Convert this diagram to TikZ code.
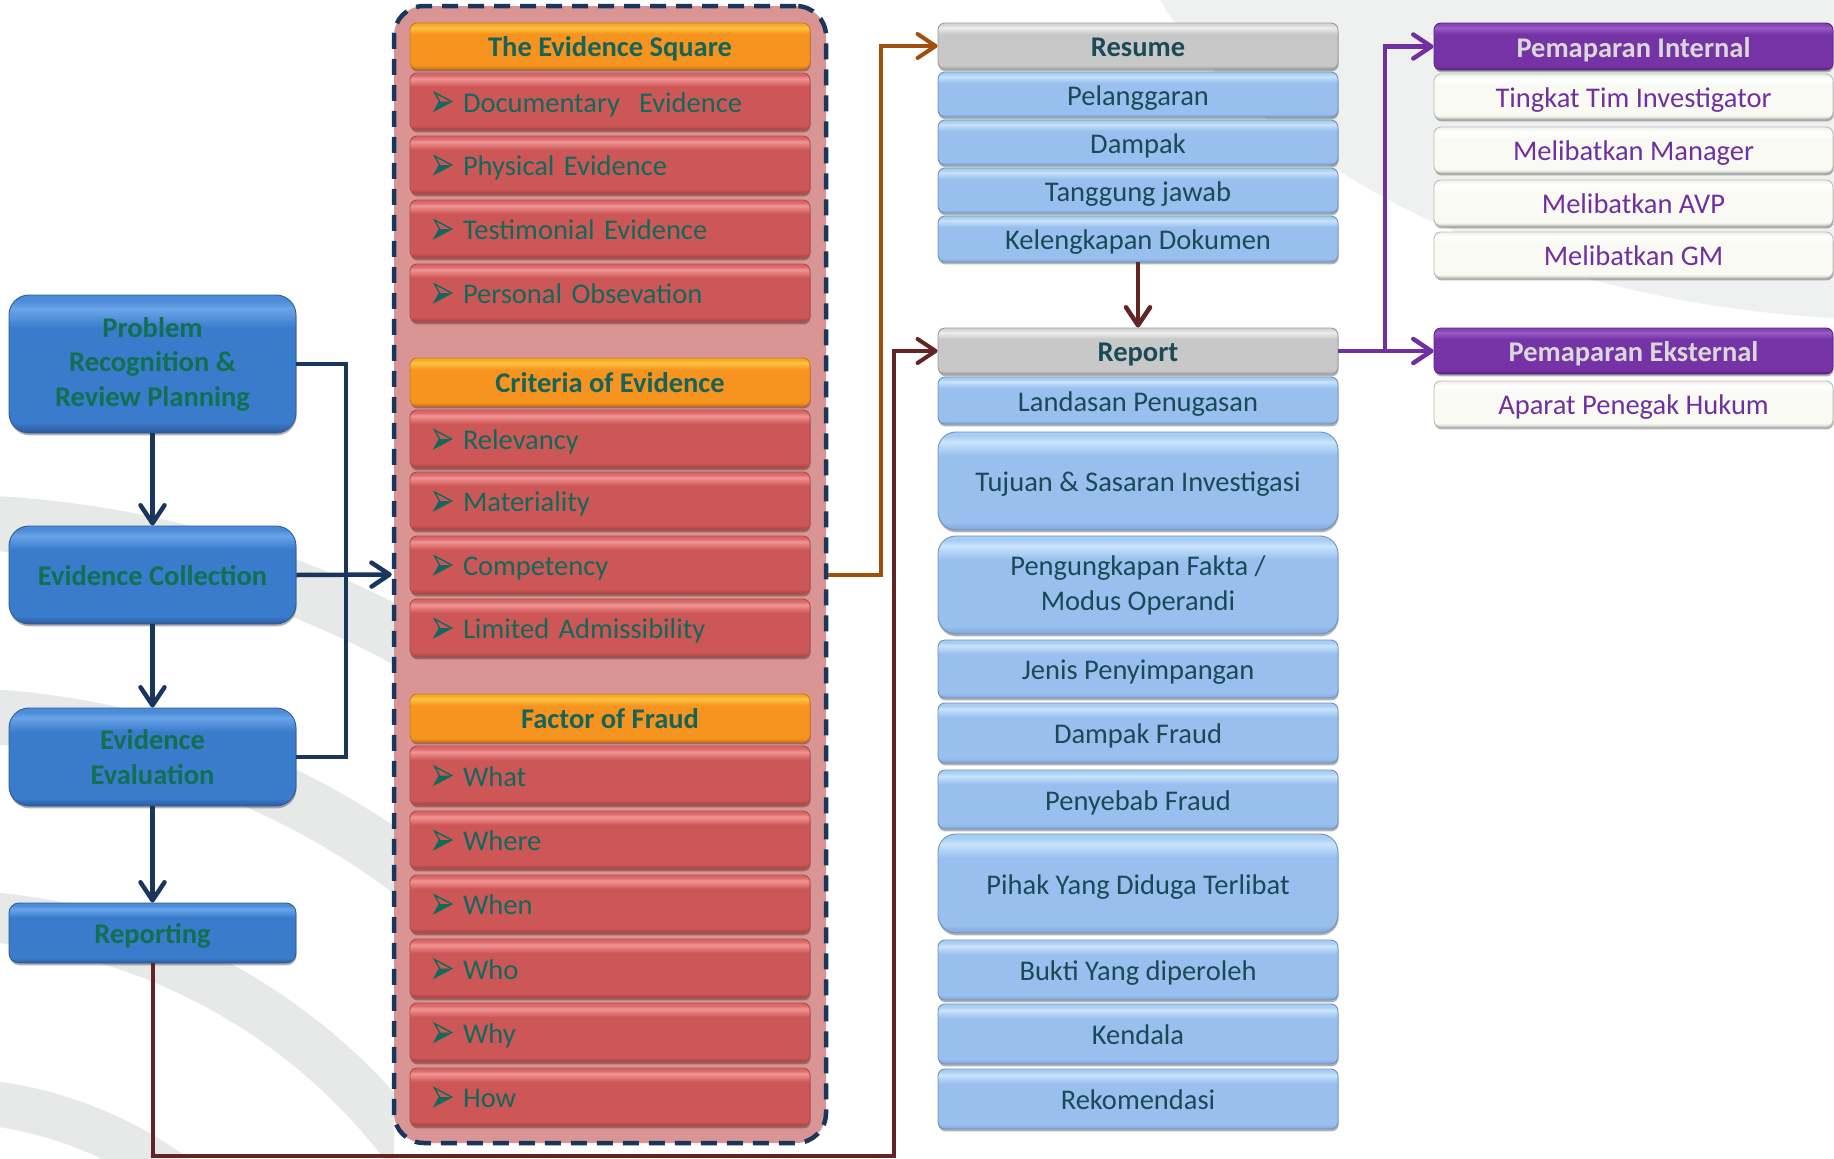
\documentclass[tikz,border=0pt]{standalone}
\usepackage{fontspec}
\setmainfont{Carlito}
\usetikzlibrary{arrows.meta,shadows}

% line and panel colours
\definecolor{navy}{HTML}{1B365D}
\definecolor{orangeline}{HTML}{A24F0C}
\definecolor{wine}{HTML}{632523}
\definecolor{violet}{HTML}{7030A0}
\definecolor{swoosh}{HTML}{E7E9E9}
\definecolor{swooshlight}{HTML}{EFF0F0}
\definecolor{panelfill}{HTML}{D99594}

% text colours
\definecolor{leftTxt}{HTML}{107050}
\definecolor{redTxt}{HTML}{0F6A5C}
\definecolor{hdrTxt}{HTML}{166457}
\definecolor{slateTxt}{HTML}{1A4A56}
\definecolor{paleTxt}{HTML}{D9D9D9}

% gloss colours: bottom edge, body, highlight, top
\definecolor{rEdge}{HTML}{A54343}\definecolor{rBody}{HTML}{CD5656}
\definecolor{rLight}{HTML}{F39494}\definecolor{rTop}{HTML}{D86868}
\definecolor{rLine}{HTML}{B04A4A}
\definecolor{oEdge}{HTML}{DA760C}\definecolor{oBody}{HTML}{F7931F}
\definecolor{oLight}{HTML}{FFC443}\definecolor{oTop}{HTML}{F9A62E}
\definecolor{oLine}{HTML}{D07A12}
\definecolor{bEdge}{HTML}{2B5A9C}\definecolor{bBody}{HTML}{3B7BCB}
\definecolor{bLight}{HTML}{6AA5EA}\definecolor{bTop}{HTML}{4C8BD8}
\definecolor{bLine}{HTML}{2D5C98}
\definecolor{lEdge}{HTML}{7EA5D6}\definecolor{lBody}{HTML}{98BFEE}
\definecolor{lLight}{HTML}{C9E4FC}\definecolor{lTop}{HTML}{A8CDF3}
\definecolor{lLine}{HTML}{6E91BE}
\definecolor{gEdge}{HTML}{A6A6A6}\definecolor{gBody}{HTML}{C8C8C8}
\definecolor{gLight}{HTML}{EDEDED}\definecolor{gTop}{HTML}{D6D6D6}
\definecolor{gLine}{HTML}{9A9A9A}
\definecolor{pEdge}{HTML}{55207D}\definecolor{pBody}{HTML}{7533A6}
\definecolor{pLight}{HTML}{9A5CC8}\definecolor{pTop}{HTML}{8444B4}
\definecolor{pLine}{HTML}{5A2385}
\definecolor{wEdge}{HTML}{CBCBC6}\definecolor{wBody}{HTML}{FAFAF5}
\definecolor{wLight}{HTML}{FFFFFF}\definecolor{wTop}{HTML}{F4F4EE}
\definecolor{wLine}{HTML}{BDBDB8}

% vertical gloss: dark lower rim, flat body, light band under the top edge
\newcommand\glossy[5]{\pgfdeclareverticalshading{#1}{100bp}{%
  color(0bp)=(#2); color(25bp)=(#2); color(29bp)=(#3); color(63bp)=(#3);
  color(70bp)=(#4); color(73bp)=(#5); color(75bp)=(#5); color(100bp)=(#5)}}
\glossy{redgloss}{rEdge}{rBody}{rLight}{rTop}
\glossy{orangegloss}{oEdge}{oBody}{oLight}{oTop}
\glossy{bluegloss}{bEdge}{bBody}{bLight}{bTop}
\glossy{lbluegloss}{lEdge}{lBody}{lLight}{lTop}
\glossy{greygloss}{gEdge}{gBody}{gLight}{gTop}
\glossy{purplegloss}{pEdge}{pBody}{pLight}{pTop}
\glossy{whitegloss}{wEdge}{wBody}{wLight}{wTop}

% box from corner (x1,y1) to (x2,y2): name, style, x1, y1, x2, y2, text
\newcommand\bx[7]{\node[#2, minimum width={#5pt-#3pt}, minimum height={#6pt-#4pt}]
  (#1) at ({(#3+#5)/2},{(#4+#6)/2}) {#7};}
% room for the arrowhead bullet drawn in front of each list entry
\newcommand\bul{\hspace*{28pt}}

\tikzset{
  card/.style={rectangle, rounded corners=7pt, inner sep=0pt, line width=0.9pt,
    align=center, font={\fontsize{28.5}{35}\selectfont},
    text height=25pt, text depth=3.5pt,
    drop shadow={shadow xshift=0.6pt, shadow yshift=-2.4pt, opacity=0.3, fill=black}},
  multiline/.style={text height={}, text depth={}},
  leftcard/.style={card, rounded corners=20pt, shading=bluegloss, draw=bLine,
    text=leftTxt, font={\fontsize{28.5}{34.5}\selectfont\bfseries}},
  hdrcard/.style={card, shading=orangegloss, draw=oLine, text=hdrTxt,
    font={\fontsize{28.5}{35}\selectfont\bfseries}},
  redcard/.style={card, shading=redgloss, draw=rLine, text=redTxt, align=left,
    text width=350pt, inner xsep=25pt},
  titlecard/.style={card, shading=greygloss, draw=gLine, text=slateTxt,
    font={\fontsize{28.5}{35}\selectfont\bfseries}},
  itemcard/.style={card, shading=lbluegloss, draw=lLine, text=slateTxt},
  tallcard/.style={itemcard, rounded corners=18pt},
  purplecard/.style={card, shading=purplegloss, draw=pLine, text=paleTxt,
    font={\fontsize{28.5}{35}\selectfont\bfseries}},
  whitecard/.style={card, shading=whitegloss, draw=wLine, text=violet},
  panelbox/.style={rectangle, draw=navy, line width=4.5pt, dash pattern=on 16pt off 10pt,
    fill=panelfill, rounded corners=30pt, inner sep=0pt},
  link/.style={line width=4.5pt, line join=miter},
  tip/.style={-{Straight Barb[length=18pt,width=24pt,round]}},
  % top-lighted arrowhead bullet: outlined upper half, filled lower half
  arrowbullet/.pic={
    \fill[redTxt] (17,0) -- (5,0) -- (0,9) -- cycle;
    \draw[redTxt, line width=1.4pt, line join=miter] (17,0) -- (0,-9) -- (5,0) -- (0,9) -- cycle;
  },
}

\begin{document}
\begin{tikzpicture}[x=1pt, y=-1pt]
\useasboundingbox (0,0) rectangle (1834,1159);
\fill[white] (0,0) rectangle (1834,1159);

% background swooshes
\begin{scope}
  \clip (0,0) rectangle (394,1159);
  \foreach \r/\w in {978/55, 785/55, 585/50, 400/45}
    \draw[swoosh, line width=\w pt] (-60,1500) circle [radius=\r];
\end{scope}
\fill[swooshlight] (1160,0) .. controls (1250,150) and (1500,300) .. (1834,318) -- (1834,0) -- cycle;

% process column
\bx{prob}{leftcard, multiline}{9}{295}{296}{433}{Problem\\Recognition \&\\Review Planning}
\bx{coll}{leftcard}{9}{526}{296}{624}{Evidence Collection}
\bx{eval}{leftcard, multiline}{9}{708}{296}{806}{Evidence\\Evaluation}
\bx{repg}{leftcard, rounded corners=10pt}{9}{903}{296}{963}{Reporting}

% evidence panel
\node[panelbox, minimum width=432pt, minimum height=1137pt] (panel) at (610,574.5) {};
\bx{hsq}{hdrcard}{410}{23}{810}{69}{The Evidence Square}
\bx{doc}{redcard}{410}{73}{810}{130}{\bul Documentary\ \ Evidence}
\bx{phy}{redcard}{410}{136}{810}{194}{\bul Physical Evidence}
\bx{tes}{redcard}{410}{200}{810}{258}{\bul Testimonial Evidence}
\bx{per}{redcard}{410}{264}{810}{322}{\bul Personal Obsevation}
\bx{hcr}{hdrcard}{410}{358}{810}{406}{Criteria of Evidence}
\bx{rel}{redcard}{410}{410}{810}{468}{\bul Relevancy}
\bx{mat}{redcard}{410}{472}{810}{530}{\bul Materiality}
\bx{com}{redcard}{410}{536}{810}{594}{\bul Competency}
\bx{lim}{redcard}{410}{599}{810}{657}{\bul Limited Admissibility}
\bx{hff}{hdrcard}{410}{694}{810}{742}{Factor of Fraud}
\bx{what}{redcard}{410}{746}{810}{805}{\bul What}
\bx{where}{redcard}{410}{811}{810}{869}{\bul Where}
\bx{when}{redcard}{410}{875}{810}{933}{\bul When}
\bx{who}{redcard}{410}{939}{810}{998}{\bul Who}
\bx{why}{redcard}{410}{1003}{810}{1062}{\bul Why}
\bx{how}{redcard}{410}{1068}{810}{1126}{\bul How}
\foreach \n in {doc,phy,tes,per,rel,mat,com,lim,what,where,when,who,why,how}
  \pic at ([xshift=25pt]\n.west) {arrowbullet};

% resume and report column
\bx{resume}{titlecard}{938}{23}{1338}{69}{Resume}
\bx{pel}{itemcard}{938}{72}{1338}{117}{Pelanggaran}
\bx{dam}{itemcard}{938}{120}{1338}{165}{Dampak}
\bx{tan}{itemcard}{938}{168}{1338}{213}{Tanggung jawab}
\bx{kel}{itemcard}{938}{216}{1338}{262}{Kelengkapan Dokumen}
\bx{report}{titlecard}{938}{328}{1338}{374}{Report}
\bx{lan}{itemcard}{938}{377}{1338}{424}{Landasan Penugasan}
\bx{tuj}{tallcard}{938}{432}{1338}{530}{Tujuan \& Sasaran Investigasi}
\bx{pen}{tallcard, multiline}{938}{536}{1338}{634}{Pengungkapan Fakta /\\Modus Operandi}
\bx{jen}{itemcard}{938}{640}{1338}{698}{Jenis Penyimpangan}
\bx{dfr}{itemcard}{938}{703}{1338}{763}{Dampak Fraud}
\bx{pfr}{itemcard}{938}{770}{1338}{829}{Penyebab Fraud}
\bx{pih}{tallcard}{938}{834}{1338}{933}{Pihak Yang Diduga Terlibat}
\bx{buk}{itemcard}{938}{940}{1338}{1000}{Bukti Yang diperoleh}
\bx{ken}{itemcard}{938}{1004}{1338}{1064}{Kendala}
\bx{rek}{itemcard}{938}{1069}{1338}{1129}{Rekomendasi}

% presentation column
\bx{pint}{purplecard}{1434}{23}{1833}{70}{Pemaparan Internal}
\bx{tti}{whitecard}{1434}{74}{1833}{119}{Tingkat Tim Investigator}
\bx{mman}{whitecard}{1434}{127}{1833}{173}{Melibatkan Manager}
\bx{mavp}{whitecard}{1434}{180}{1833}{226}{Melibatkan AVP}
\bx{mgm}{whitecard}{1434}{232}{1833}{278}{Melibatkan GM}
\bx{peks}{purplecard}{1434}{328}{1833}{374}{Pemaparan Eksternal}
\bx{aph}{whitecard}{1434}{381}{1833}{427}{Aparat Penegak Hukum}

% connectors
\coordinate (nbus) at (346,560);
\coordinate (obus) at (881,300);
\coordinate (wbus) at (894,1156);
\coordinate (pbus) at (1385,200);

\draw[link, navy, tip] (prob) -- (coll);
\draw[link, navy, tip] (coll) -- (eval);
\draw[link, navy, tip] (eval) -- (repg);
\draw[link, navy] (prob.east) -| (nbus) |- (eval.east);
\draw[link, navy, tip] (coll.east) -- (panel.west);

\draw[link, orangeline, line width=4pt, tip] (panel.east) -| (obus) |- (resume.west);
\draw[link, wine, line width=4pt, tip] (repg.south) |- (wbus) |- (report.west);
\draw[link, wine, tip] (kel) -- (report);

\draw[link, violet, tip] (report.east) -- (peks.west);
\draw[link, violet, tip] (report.east -| pbus) |- (pint.west);
\end{tikzpicture}
\end{document}
